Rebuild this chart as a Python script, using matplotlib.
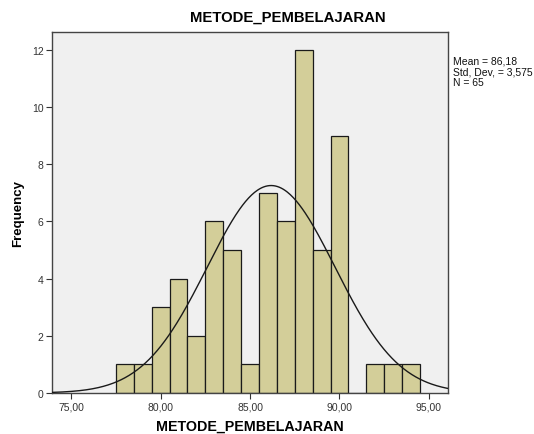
import matplotlib.pyplot as plt
import numpy as np

plt.rcParams['font.family'] = ['Liberation Sans', 'DejaVu Sans']

# Data: histogram of METODE_PEMBELAJARAN (bins of width 1 centred on integers)
bin_centers = [78, 79, 80, 81, 82, 83, 84, 85, 86, 87, 88, 89, 90, 91, 92, 93, 94]
counts = [1, 1, 3, 4, 2, 6, 5, 1, 7, 6, 12, 5, 9, 0, 1, 1, 1]
mean = 86.18
std_dev = 3.575
n = 65
x_ticks = [75, 80, 85, 90, 95]
y_ticks = [0, 2, 4, 6, 8, 10, 12]


def fmt_comma(v):
    return f"{v:.2f}".replace(".", ",")


def main():
    fig = plt.figure(figsize=(5.34, 4.35), dpi=100)
    ax = fig.add_axes([0.0974, 0.0943, 0.7416, 0.8297])
    ax.set_facecolor('#F0F0F0')

    ax.bar(bin_centers, counts, width=1.0, color='#D3CE99',
           edgecolor='#1a1a1a', linewidth=0.9, zorder=2)

    # Normal curve scaled to counts
    xs = np.linspace(73.9, 96.1, 400)
    pdf = np.exp(-0.5 * ((xs - mean) / std_dev) ** 2) / (std_dev * np.sqrt(2 * np.pi))
    ax.plot(xs, n * pdf, color='#1a1a1a', linewidth=1.0, zorder=3)

    ax.set_xlim(73.93, 96.07)
    ax.set_ylim(0, 12.62)
    ax.set_xticks(x_ticks)
    ax.set_xticklabels([fmt_comma(t) for t in x_ticks])
    ax.set_yticks(y_ticks)
    ax.tick_params(direction='out', length=4, width=0.8, labelsize=7.5,
                   colors='#333333', labelcolor='#333333', pad=2)

    for s in ax.spines.values():
        s.set_color('#444444')
        s.set_linewidth(1.0)

    fig.text(288 / 534, 1 - 18 / 435, 'METODE_PEMBELAJARAN', fontsize=10.7,
             fontweight='bold', ha='center', va='center')
    ax.set_xlabel('METODE_PEMBELAJARAN', fontsize=10.3, fontweight='bold', va='center')
    ax.xaxis.set_label_coords(0.5, -0.092)
    ax.set_ylabel('Frequency', fontsize=9.5, fontweight='bold', va='center')
    ax.yaxis.set_label_coords(-0.086, 0.5)

    stats = (f"Mean = {mean:.2f}".replace(".", ",") + "\n"
             + f"Std. Dev. = {std_dev:.3f}".replace(".", ",") + "\n"
             + f"N = {n}")
    fig.text(453 / 534, 1 - 57 / 435, stats, fontsize=7.5, va='top', ha='left',
             linespacing=1.05, color='#111111')

    fig.savefig('out.png', dpi=100)


if __name__ == "__main__":
    main()
